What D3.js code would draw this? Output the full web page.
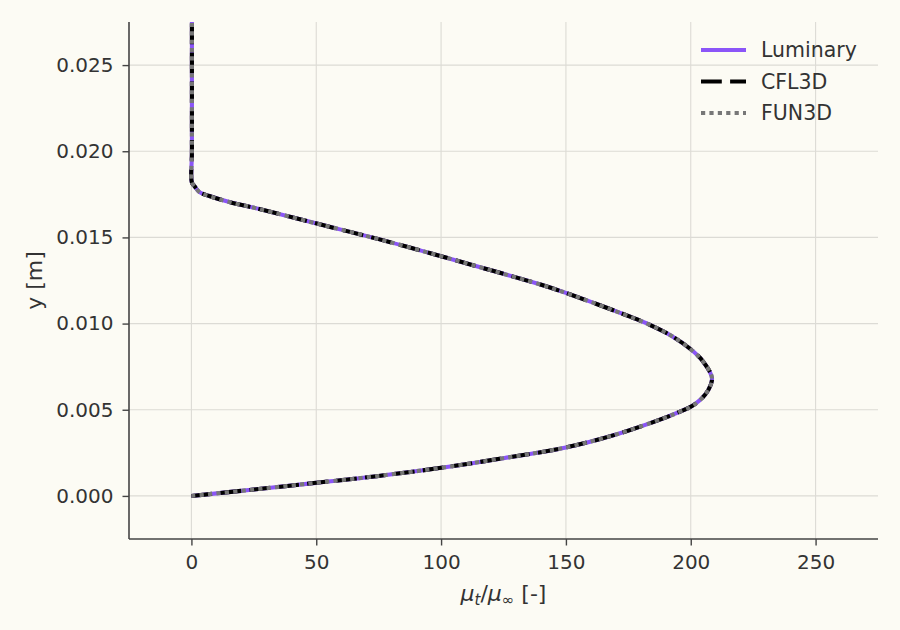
<!DOCTYPE html>
<html>
<head>
<meta charset="utf-8">
<script src="https://cdn.jsdelivr.net/npm/d3@7"></script>
<style>
  html, body { margin: 0; padding: 0; background: #fcfbf4; }
  svg { display: block; }
  text { font-family: "DejaVu Sans", sans-serif; fill: #333; }
</style>
</head>
<body>
<div id="chart"></div>
<script>
// ---- data ----
const yValues  = [0, 0.00037, 0.00076, 0.00116, 0.00163, 0.00219, 0.00281, 0.00358, 0.00450, 0.00489, 0.00517, 0.00556, 0.00614, 0.00684, 0.00779, 0.00851, 0.00934, 0.00992, 0.01040, 0.01178, 0.01228, 0.01309, 0.01391, 0.01490, 0.01576, 0.01667, 0.01705, 0.01740, 0.01763, 0.01798, 0.01818, 0.0200, 0.0280];
const muValues = [0, 25, 50, 75, 100, 125, 150, 170.4, 189, 195.7, 200, 203.7, 207, 208.5, 205, 200, 191.7, 183.7, 175.7, 150, 139.5, 120, 100, 75, 51.4, 26.6, 15.2, 7.2, 3.2, 1.2, 0.2, 0.2, 0.2];
const seriesNames = ["Luminary", "CFL3D", "FUN3D"];
const xTicks = [0, 50, 100, 150, 200, 250];
const yTicks = [0, 0.005, 0.010, 0.015, 0.020, 0.025];

const W = 900, H = 630;
const m = { left: 129, right: 878, top: 22, bottom: 539 };

const svg = d3.select("#chart").append("svg").attr("width", W).attr("height", H);
svg.append("rect").attr("width", W).attr("height", H).attr("fill", "#fcfbf4");

const x = d3.scaleLinear().domain([-25, 275]).range([m.left, m.right]);
const y = d3.scaleLinear().domain([-0.0025, 0.0275]).range([m.bottom, m.top]);

// grid
const grid = svg.append("g");
grid.selectAll(".gx").data(xTicks).join("line")
  .attr("x1", d => x(d)).attr("x2", d => x(d)).attr("y1", m.top).attr("y2", m.bottom)
  .attr("stroke", "#dcdbd5").attr("stroke-width", 1.1);
grid.selectAll(".gy").data(yTicks).join("line")
  .attr("y1", d => y(d)).attr("y2", d => y(d)).attr("x1", m.left).attr("x2", m.right)
  .attr("stroke", "#dcdbd5").attr("stroke-width", 1.1);

// axes
const xAxis = svg.append("g").attr("transform", `translate(0,${m.bottom})`)
  .call(d3.axisBottom(x).tickValues(xTicks).tickFormat(d3.format("d")).tickSize(6.5).tickPadding(9));
const yAxis = svg.append("g").attr("transform", `translate(${m.left},0)`)
  .call(d3.axisLeft(y).tickValues(yTicks).tickFormat(d3.format(".3f")).tickSize(6.5).tickPadding(9));
[xAxis, yAxis].forEach(a => {
  a.select(".domain").attr("stroke", "#444").attr("stroke-width", 1.6);
  a.selectAll(".tick line").attr("stroke", "#444").attr("stroke-width", 1.4);
  a.selectAll(".tick text").attr("font-size", 20).attr("fill", "#333")
    .attr("font-family", "DejaVu Sans");
});
xAxis.select(".domain").attr("d", `M${m.left},0H${m.right}`);
yAxis.select(".domain").attr("d", `M0,${m.top}V${m.bottom}`);

// clip
svg.append("clipPath").attr("id", "clip").append("rect")
  .attr("x", m.left).attr("y", m.top).attr("width", m.right - m.left).attr("height", m.bottom - m.top);

const pts = yValues.map((v, i) => ({ y: v, mu: muValues[i] }));
const line = d3.line().x(d => x(d.mu)).y(d => y(d.y)).curve(d3.curveCatmullRom.alpha(0.5));

const styles = {
  "Luminary": { color: "#8b55f8", dash: null },
  "CFL3D":    { color: "#000000", dash: "20.8,8.3" },
  "FUN3D":    { color: "#777777", dash: "4.2,4.2" }
};
const lw = 4.1;
const plot = svg.append("g").attr("clip-path", "url(#clip)");
seriesNames.forEach(name => {
  plot.append("path").datum(pts)
    .attr("d", line).attr("fill", "none")
    .attr("stroke", styles[name].color).attr("stroke-width", lw)
    .attr("stroke-dasharray", styles[name].dash)
    .attr("stroke-linejoin", "round");
});

// legend
const leg = svg.append("g");
const legY = [50, 81.5, 113];
seriesNames.forEach((name, i) => {
  leg.append("line").attr("x1", 701).attr("x2", 746).attr("y1", legY[i]).attr("y2", legY[i])
    .attr("stroke", styles[name].color).attr("stroke-width", lw)
    .attr("stroke-dasharray", styles[name].dash);
  leg.append("text").attr("x", 761).attr("y", legY[i]).attr("dy", "0.36em")
    .attr("font-size", 20.5).text(name);
});

// axis labels
const xl = svg.append("text").attr("x", (m.left + m.right) / 2).attr("y", 601)
  .attr("text-anchor", "middle").attr("font-size", 22);
xl.append("tspan").attr("font-style", "italic").text("μ");
xl.append("tspan").attr("font-style", "italic").attr("font-size", 15).attr("dy", 4).text("t");
xl.append("tspan").attr("dy", -4).text("/");
xl.append("tspan").attr("font-style", "italic").text("μ");
xl.append("tspan").attr("font-size", 15).attr("dy", 4).text("∞");
xl.append("tspan").attr("dy", -4).text(" [-]");

svg.append("text").attr("transform", `translate(42,${(m.top + m.bottom) / 2}) rotate(-90)`)
  .attr("text-anchor", "middle").attr("font-size", 22).text("y [m]");
</script>
</body>
</html>
